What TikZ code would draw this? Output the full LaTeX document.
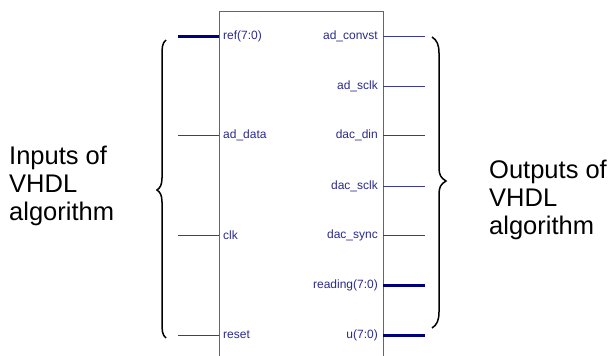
\documentclass[tikz,border=0pt]{standalone}
\usepackage{fontspec}
\setmainfont{Liberation Sans}
\definecolor{boxcol}{HTML}{5C5CB0}
\definecolor{pincol}{HTML}{3A3A9E}
\definecolor{buscol}{HTML}{00007F}
\definecolor{labcol}{HTML}{2A2A8C}
\tikzset{
  pinline/.style={draw=pincol, line width=0.9pt},
  busline/.style={draw=buscol, line width=3pt},
  lpin/.style={anchor=west, inner sep=0pt, text=labcol, font=\fontsize{12}{13}\selectfont},
  rpin/.style={anchor=east, inner sep=0pt, text=labcol, font=\fontsize{12}{13}\selectfont},
  bigtext/.style={anchor=north west, inner sep=0pt, align=left, font=\fontsize{25.5}{28}\selectfont},
  bracecurve/.style={draw=black, line width=1.5pt}
}
\begin{document}
\begin{tikzpicture}[x=1pt,y=-1pt]
\useasboundingbox (0,0) rectangle (614,356);
% block
\draw[draw=boxcol, line width=1pt] (219,11.5) -- (383,11.5) -- (383,362) (219,11.5) -- (219,362);
% left pins
\coordinate (lref) at (178,36);
\coordinate (ladd) at (178,135);
\coordinate (lclk) at (178,235);
\coordinate (lrst) at (178,335);
\coordinate (bref) at (219,36);
\coordinate (badd) at (219,135);
\coordinate (bclk) at (219,235);
\coordinate (brst) at (219,335);
\node[lpin] (tref) at (223,36) {ref(7:0)};
\node[lpin] (tadd) at (223,135) {ad\_data};
\node[lpin] (tclk) at (223,235) {clk};
\node[lpin] (trst) at (223,335) {reset};
\draw[busline] (lref) -- (bref);
\draw[pinline] (ladd) -- (badd);
\draw[pinline] (lclk) -- (bclk);
\draw[pinline] (lrst) -- (brst);
% right pins
\coordinate (bconv) at (383,36);
\coordinate (bsclk) at (383,86);
\coordinate (bdin) at (383,135);
\coordinate (bdsclk) at (383,186);
\coordinate (bsync) at (383,235);
\coordinate (bread) at (383,285);
\coordinate (bu) at (383,335);
\coordinate (rconv) at (425,36);
\coordinate (rsclk) at (425,86);
\coordinate (rdin) at (425,135);
\coordinate (rdsclk) at (425,186);
\coordinate (rsync) at (425,235);
\coordinate (rread) at (425,285);
\coordinate (ru) at (425,335);
\node[rpin] (tconv) at (378,36) {ad\_convst};
\node[rpin] (tsclk) at (378,86) {ad\_sclk};
\node[rpin] (tdin) at (378,135) {dac\_din};
\node[rpin] (tdsclk) at (378,186) {dac\_sclk};
\node[rpin] (tsync) at (378,235) {dac\_sync};
\node[rpin] (tread) at (378,285) {reading(7:0)};
\node[rpin] (tu) at (378,335) {u(7:0)};
\draw[pinline] (bconv) -- (rconv);
\draw[pinline] (bsclk) -- (rsclk);
\draw[pinline] (bdin) -- (rdin);
\draw[pinline] (bdsclk) -- (rdsclk);
\draw[pinline] (bsync) -- (rsync);
\draw[busline] (bread) -- (rread);
\draw[busline] (bu) -- (ru);
% braces
\draw[bracecurve] (166,40) .. controls (162,43) and (162,48) .. (162,56) -- (162,178)
  .. controls (162,185) and (160,188) .. (157,190)
  .. controls (160,192) and (162,195) .. (162,202) -- (162,322)
  .. controls (162,330) and (162,335) .. (166,338);
\draw[bracecurve] (432,37) .. controls (437,40) and (439,45) .. (439,53) -- (439,168)
  .. controls (439,175) and (441,178) .. (446,181)
  .. controls (441,184) and (439,187) .. (439,194) -- (439,312)
  .. controls (439,320) and (437,325) .. (432,328);
% texts
\node[bigtext] (tin) at (9,146) {Inputs of\\VHDL\\algorithm};
\node[bigtext] (tout) at (489,160) {Outputs of\\VHDL\\algorithm};
\end{tikzpicture}
\end{document}
